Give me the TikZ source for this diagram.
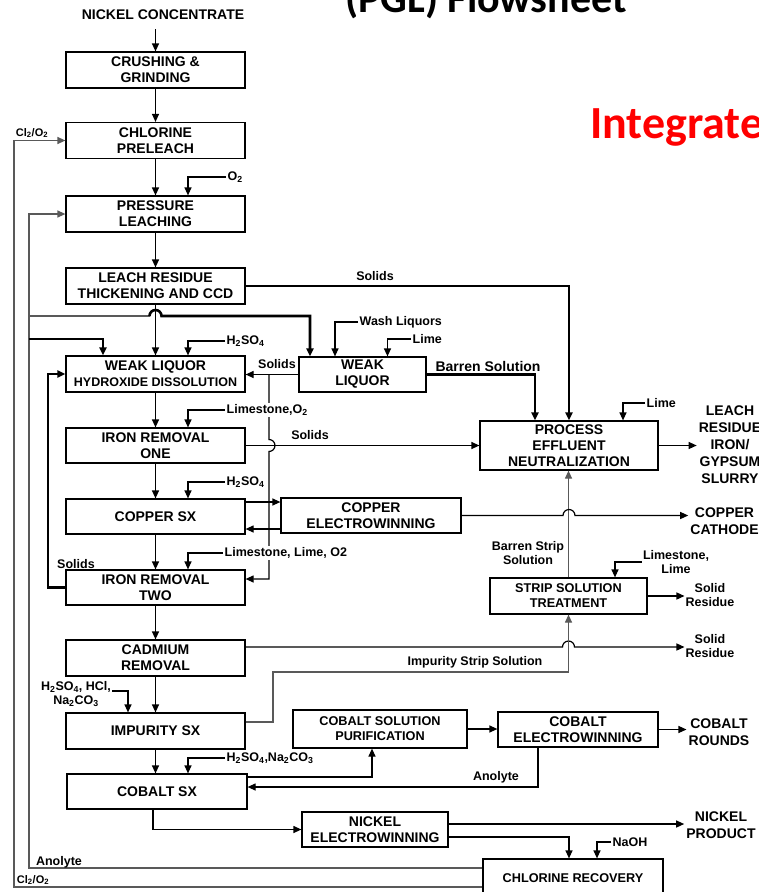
\documentclass[tikz,border=0pt]{standalone}
\usepackage{fontspec}
\setmainfont{Liberation Sans}
\newfontfamily\slidefont{Carlito}
\usepackage{tikz}
\usetikzlibrary{arrows.meta}
\newcommand{\chsub}[1]{\textsubscript{#1}}

\begin{document}
\begin{tikzpicture}[x=1pt,y=-1pt,
    unitbox/.style={draw,line width=1.2pt,minimum width=179pt,minimum height=36pt,
        inner sep=0pt,align=center,font=\bfseries\fontsize{14}{16}\selectfont},
    small/.style={font=\bfseries\fontsize{12.7}{15}\selectfont},
    flow/.style={line width=1.2pt,-{Triangle[length=8pt,width=7pt]}},
    heavy/.style={flow,line width=2.6pt},
    ret/.style={flow,draw=black!65},
    feed/.style={anchor=west,inner sep=1.5pt,fill=white,font=\bfseries\fontsize{12.5}{14}\selectfont},
    note/.style={inner sep=1pt,align=center,font=\bfseries\fontsize{12.5}{14.5}\selectfont},
    outl/.style={inner sep=2pt,align=center,font=\bfseries\fontsize{14}{17}\selectfont}
]
\useasboundingbox (0,0) rectangle (759,892);

% slide titles (cut by the page)
\node[anchor=base west,inner sep=0pt,font=\slidefont\bfseries\fontsize{42}{42}\selectfont] (ttl) at (345,12) {(PGL) Flowsheet};
\node[anchor=base west,inner sep=0pt,text=red,font=\slidefont\bfseries\fontsize{46}{46}\selectfont] (intg) at (590,138) {Integrate};

\node[outl,inner ysep=9pt] (nc) at (163,15) {NICKEL CONCENTRATE};

% process units
\node[unitbox] (crush) at (155.5,70) {CRUSHING \&\\GRINDING};
\node[unitbox] (prel) at (155.5,140.5) {CHLORINE\\PRELEACH};
\node[unitbox] (press) at (155.5,214) {PRESSURE\\LEACHING};
\node[unitbox] (lres) at (155.5,286) {LEACH RESIDUE\\THICKENING AND CCD};
\node[unitbox] (wlhd) at (155.5,374) {WEAK LIQUOR\\{\fontsize{12.5}{14}\selectfont HYDROXIDE DISSOLUTION}};
\node[unitbox,minimum width=127pt,minimum height=35pt] (wl) at (362.5,374.5) {WEAK\\LIQUOR};
\node[unitbox,minimum height=35pt] (ir1) at (155.5,445.5) {IRON REMOVAL\\ONE};
\node[unitbox,minimum height=35pt] (cusx) at (155.5,516.5) {COPPER SX};
\node[unitbox,minimum width=180pt,minimum height=35pt] (cuew) at (371,515.5) {COPPER\\ELECTROWINNING};
\node[unitbox,minimum width=178pt,minimum height=49pt] (pen) at (569,445.5) {PROCESS\\EFFLUENT\\NEUTRALIZATION};
\node[unitbox,small,minimum width=157pt] (sst) at (568.5,596) {STRIP SOLUTION\\TREATMENT};
\node[unitbox,minimum height=35pt] (ir2) at (155.5,587.5) {IRON REMOVAL\\TWO};
\node[unitbox] (cd) at (155.5,658) {CADMIUM\\REMOVAL};
\node[unitbox] (isx) at (155.5,731) {IMPURITY SX};
\node[unitbox,small,minimum width=174pt,minimum height=38pt] (csp) at (380,729) {COBALT SOLUTION\\PURIFICATION};
\node[unitbox,minimum width=160pt,minimum height=35pt] (cew) at (578,729.5) {COBALT\\ELECTROWINNING};
\node[unitbox,minimum width=180pt,minimum height=35pt] (cosx) at (157,791.5) {COBALT SX};
\node[unitbox,minimum width=146pt,minimum height=35pt] (new) at (375,829.5) {NICKEL\\ELECTROWINNING};
\node[unitbox,small,minimum width=180pt,minimum height=38pt] (clr) at (573,878) {CHLORINE RECOVERY};

% products
\node[outl] (lrout) at (730,445) {LEACH\\RESIDUE\\IRON/\\GYPSUM\\SLURRY};
\node[outl] (cucath) at (724.5,521) {COPPER\\CATHODE};
\node[note] (sr1) at (710,595) {Solid\\Residue};
\node[note] (sr2) at (710,646) {Solid\\Residue};
\node[outl] (cor) at (719,732) {COBALT\\ROUNDS};
\node[outl] (np) at (721,825) {NICKEL\\PRODUCT};

% main column
\draw[flow] (nc.south -| crush.north) -- (crush.north);
\draw[flow] (crush) -- (prel);
\draw[flow] (prel) -- (press);
\draw[flow] (press) -- (lres);
\draw[flow] (lres) -- (wlhd);
\draw[flow] (wlhd) -- (ir1);
\draw[flow] (ir1) -- (cusx);
\draw[flow] (cusx) -- (ir2);
\draw[flow] (ir2) -- (cd);
\draw[flow] (cd) -- (isx);
\draw[flow] (isx.south) -- (isx.south |- cosx.north);

% recycle loops on the left
\coordinate (clx) at (14,0);
\coordinate (anl) at (29,0);
\coordinate (sol) at (48,0);
\coordinate (wla) at (29,316);
\coordinate (wlb) at (29,339);
\draw[ret] ([yshift=-9pt]clr.west) -| (clx |- prel.west) -- (prel.west);
\draw[ret] ([yshift=10pt]clr.west) -| (anl |- press.west) -- (press.west);
\draw[ret,-] (wla) -- ([xshift=-6pt]wla -| lres.south);
\draw[heavy] ([xshift=-6pt]wla -| lres.south) arc[start angle=180,end angle=0,radius=6pt]
    -| ([xshift=-52.5pt]wl.north);
\draw[heavy] (wlb) -| ([xshift=-52.5pt]wlhd.north);
\draw[heavy] (ir2.west) -| (sol |- wlhd.west) -- (wlhd.west);

% solids and liquors to neutralization
\draw[heavy] (lres.east) -| (pen.north);
\draw[heavy] (wl.east) -| ([xshift=-34pt]pen.north);
\draw[flow] (wl.west) -- (wl.west -| wlhd.east);
\coordinate (sj) at (269,0);
\draw[flow] (sj |- wl.west) -- ([yshift=6pt]sj |- ir1.east) arc[start angle=90,end angle=-90,radius=6pt]
    |- ([yshift=8.5pt]ir2.east);
\draw[flow] (ir1.east) -- (ir1.east -| pen.west);
\draw[flow] (pen.east) -- (pen.east -| lrout.west);

% copper
\draw[flow] ([yshift=14.5pt]cusx.east) -- ([yshift=14.5pt]cusx.east -| cuew.west);
\draw[flow] ([yshift=-13.5pt]cuew.west) -- ([yshift=-13.5pt]cuew.west -| cusx.east);
\draw[ret] (sst.north) -- (sst.north |- pen.south);
\draw[flow] (cuew.east) -- ([xshift=-6pt]cuew.east -| pen.south) arc[start angle=180,end angle=0,radius=6pt]
    -- (cuew.east -| cucath.west);

% strip solution
\draw[flow] (sst.east) -- (sst.east -| sr1.west);
\draw[flow] ([yshift=11pt]cd.east) -- ([xshift=-6pt,yshift=11pt]cd.east -| sst.south)
    arc[start angle=180,end angle=0,radius=6pt] -- ([yshift=11pt]cd.east -| sr2.west);
\coordinate (isk) at (273,672);
\draw[ret] ([yshift=9pt]isx.east) -| (isk) -| (sst.south);

% cobalt and nickel
\draw[flow] (csp.east) -- (csp.east -| cew.west);
\draw[flow] (cew.east) -- (cew.east -| cor.west);
\draw[flow] ([xshift=-40pt]cew.south) |- ([yshift=4.5pt]cosx.east);
\draw[flow] ([yshift=14.5pt]cosx.east) -| ([xshift=-8pt]csp.south);
\draw[flow] ([xshift=-4pt]cosx.south) |- (new.west);
\draw[flow] ([yshift=5.5pt]new.east) -- ([yshift=5.5pt]new.east -| np.west);
\draw[flow] ([yshift=-7.5pt]new.east) -| ([xshift=-4pt]clr.north);

% reagent feeds
\node[feed] (o2a) at (226,177) {O\chsub{2}};
\draw[flow] (o2a.west) -| ([xshift=32.5pt]press.north);
\node[feed] (hs1) at (225,341) {H\chsub{2}SO\chsub{4}};
\draw[flow] (hs1.west) -| ([xshift=32.5pt]wlhd.north);
\node[feed] (lso) at (225,410) {Limestone,O\chsub{2}};
\draw[flow] (lso.west) -| ([xshift=32.5pt]ir1.north);
\node[feed] (hs2) at (225,482) {H\chsub{2}SO\chsub{4}};
\draw[flow] (hs2.west) -| ([xshift=32.5pt]cusx.north);
\node[feed] (llo) at (223,553) {Limestone, Lime, O2};
\draw[flow] (llo.west) -| ([xshift=32.5pt]ir2.north);
\node[feed] (hsn) at (225,758) {H\chsub{2}SO\chsub{4},Na\chsub{2}CO\chsub{3}};
\draw[flow] (hsn.west) -| ([xshift=31pt]cosx.north);
\node[note] (hhn) at (76,694) {H\chsub{2}SO\chsub{4}, HCl,\\Na\chsub{2}CO\chsub{3}};
\draw[flow] ([yshift=3pt]hhn.east) -| ([xshift=-27.5pt]isx.north);
\node[feed] (wsh) at (358,322) {Wash Liquors};
\draw[flow] (wsh.west) -| ([xshift=-27.5pt]wl.north);
\node[feed] (lm1) at (411,339) {Lime};
\draw[flow] (lm1.west) -| ([xshift=25pt]wl.north);
\node[feed] (lm2) at (645,403) {Lime};
\draw[flow] (lm2.west) -| ([xshift=54pt]pen.north);
\node[note] (lsl) at (676,562) {Limestone,\\Lime};
\draw[flow] (lsl.west) -| ([xshift=46.5pt]sst.north);
\node[feed] (naoh) at (611,842) {NaOH};
\draw[flow] (naoh.west) -| ([xshift=24pt]clr.north);

% stream labels
\node[note] (sl1) at (375,276) {Solids};
\node[note] (sl2) at (277,364) {Solids};
\node[note] (sl3) at (310,435) {Solids};
\node[note] (sl4) at (76,564) {Solids};
\node[note,font=\bfseries\fontsize{14}{16}\selectfont] (bsl) at (488,366) {Barren Solution};
\node[note] (bss) at (528,553) {Barren Strip\\Solution};
\node[note] (isl) at (475,662) {Impurity Strip Solution};
\node[note] (an1) at (496,777) {Anolyte};
\node[note] (an2) at (59,862) {Anolyte};
\node[note,font=\bfseries\fontsize{11}{13}\selectfont] (cl1) at (32,133) {Cl\chsub{2}/O\chsub{2}};
\node[note,font=\bfseries\fontsize{11}{13}\selectfont] (cl2) at (33,880) {Cl\chsub{2}/O\chsub{2}};
\end{tikzpicture}
\end{document}
